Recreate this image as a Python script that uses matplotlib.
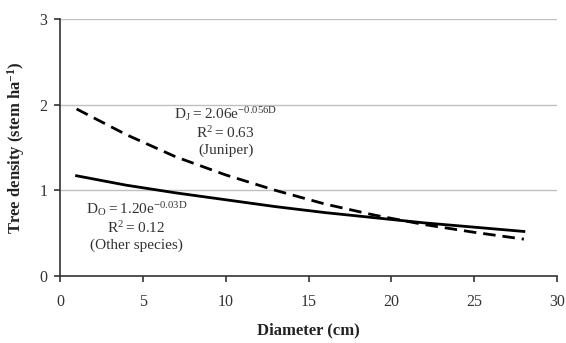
import matplotlib.pyplot as plt

plt.rcParams['font.family'] = ['Liberation Serif', 'DejaVu Serif']
plt.rcParams['mathtext.default'] = 'regular'

# values
diameter = [1, 4, 7, 10, 13, 16, 19, 22, 25, 28]
juniper = [1.95, 1.65, 1.39, 1.18, 1.00, 0.84, 0.71, 0.60, 0.51, 0.43]
other = [1.17, 1.06, 0.97, 0.89, 0.81, 0.74, 0.68, 0.62, 0.57, 0.52]

x_ticks = [0, 5, 10, 15, 20, 25, 30]
y_ticks = [0, 1, 2, 3]

fig = plt.figure(figsize=(5.66, 3.43), dpi=100)
ax = fig.add_axes([60 / 566, 1 - 276 / 343, 497 / 566, 257 / 343])

for y in y_ticks[1:]:
    ax.axhline(y, color='#c0c0c0', lw=1, zorder=0)

ax.plot(diameter, juniper, color='black', lw=2, ls=(0, (4.5, 2.5)))
ax.plot(diameter, other, color='black', lw=2)

ax.set_xlim(0, 30)
ax.set_ylim(0, 3)
ax.set_xticks(x_ticks)
ax.set_yticks(y_ticks)
ax.tick_params(labelsize=11.5, colors='#333333', length=4, width=1.2, direction='out')
ax.tick_params(axis='x', pad=9)
ax.tick_params(axis='y', pad=5)
for s in ['top', 'right']:
    ax.spines[s].set_visible(False)
for s in ['left', 'bottom']:
    ax.spines[s].set_linewidth(1.2)
    ax.spines[s].set_color('#333333')

ax.set_xlabel('Diameter (cm)', fontsize=12, fontweight='bold', labelpad=9, color='#222222')
ax.set_ylabel('Tree density (stem ha$^{-1}$)', fontsize=12, fontweight='bold', labelpad=9, color='#222222')

ax.text(10.0, 2.0, '$D_J = 2.06e^{-0.056D}$\n$R^2 = 0.63$\n(Juniper)',
        ha='center', va='top', fontsize=11, linespacing=1.2, color='#333333')
ax.text(4.6, 0.89, '$D_O = 1.20e^{-0.03D}$\n$R^2 = 0.12$\n(Other species)',
        ha='center', va='top', fontsize=11, linespacing=1.2, color='#333333')

fig.savefig('out.png', dpi=100)
